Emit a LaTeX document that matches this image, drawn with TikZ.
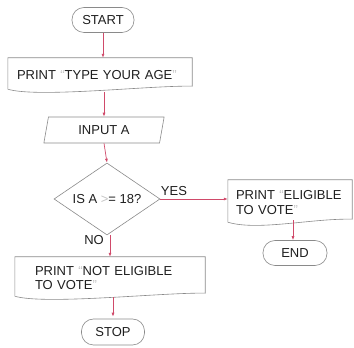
\documentclass[tikz,border=0pt]{standalone}
\usepackage{fontspec}
\setmainfont{Liberation Sans}
\usetikzlibrary{shapes.geometric,arrows.meta}
\definecolor{outl}{HTML}{8A8A8A}
\definecolor{arr}{HTML}{D04A6A}
\definecolor{txt}{HTML}{1E1E1E}
\definecolor{faint}{HTML}{C4C4C4}
\newcommand{\fq}[1]{{\color{faint}#1}}
\tikzset{
  x=1pt,y=1pt,
  every node/.style={font=\fontsize{13}{14.5}\selectfont, text=txt},
  term/.style={draw=outl, line width=0.6pt, rounded corners=12pt, minimum height=25pt, inner sep=2pt},
  docbox/.style={draw=none, inner xsep=9pt, inner ysep=2pt, align=left},
  ioshape/.style={draw=outl, line width=0.6pt, trapezium, trapezium left angle=80, trapezium right angle=100, minimum height=26pt, inner xsep=8pt},
  decide/.style={draw=outl, line width=0.6pt, diamond, aspect=1.47, inner sep=0pt, minimum width=106pt, minimum height=72pt},
  flow/.style={draw=arr, line width=0.7pt, -{Latex[length=4pt,width=3pt]}},
  wave/.style={draw=outl, line width=0.6pt},
  lbl/.style={font=\fontsize{13}{14.5}\selectfont}
}
\begin{document}
\begin{tikzpicture}
\useasboundingbox (0,0) rectangle (354,348);
\node[term, minimum width=62pt] (start) at (103,328) {START};
\node[docbox, minimum height=34pt, text width=166pt] (p1) at (100,273) {PRINT \fq{“}TYPE YOUR AGE\fq{”}};
\node[ioshape, minimum width=78pt] (inp) at (104,218) {INPUT A};
\node[decide] (dec) at (107,149) {IS A \fq{>}= 18?};
\node[docbox, minimum height=45pt, text width=108pt, inner xsep=8pt] (p2) at (290,145.5) {PRINT \fq{“}ELIGIBLE\\TO VOTE\fq{”}};
\node[term, minimum width=64pt] (end) at (295,95) {END};
\node[docbox, minimum height=42pt, text width=150pt, inner xsep=20pt] (p3) at (110,70) {PRINT \fq{“}NOT ELIGIBLE\\TO VOTE\fq{”}};
\node[term, minimum width=63pt, minimum height=26pt] (stop) at (113,16) {STOP};
\node[lbl] (yes) at (174,157) {YES};
\node[lbl] (no) at (94,108) {NO};
% document shapes
\foreach \n in {p1,p2,p3}{
  \draw[wave] ([yshift=3pt]\n.south west) -- (\n.north west) -- (\n.north east) -- ([yshift=6pt]\n.south east)
    .. controls ([xshift=-40pt,yshift=7pt]\n.south east) and ([xshift=30pt,yshift=-6pt]\n.south west) .. ([yshift=3pt]\n.south west);
}
% connectors
\draw[flow] (start.south) -- (start.south |- p1.north);
\draw[flow] (inp.north |- p1.south) -- (inp.north);
\draw[flow] (inp.south) -- (dec.north);
\draw[flow] (dec.east) -- (p2.west |- dec.east);
\draw[flow] ([xshift=3pt,yshift=5pt]p2.south) -- ([xshift=3pt]p2.south |- end.north);
\draw[flow] ([xshift=3pt]dec.south) -- ([xshift=3pt]dec.south |- p3.north);
\draw[flow] ([xshift=3pt,yshift=2pt]p3.south) -- ([xshift=3pt,yshift=2pt]p3.south |- stop.north);
\end{tikzpicture}
\end{document}
